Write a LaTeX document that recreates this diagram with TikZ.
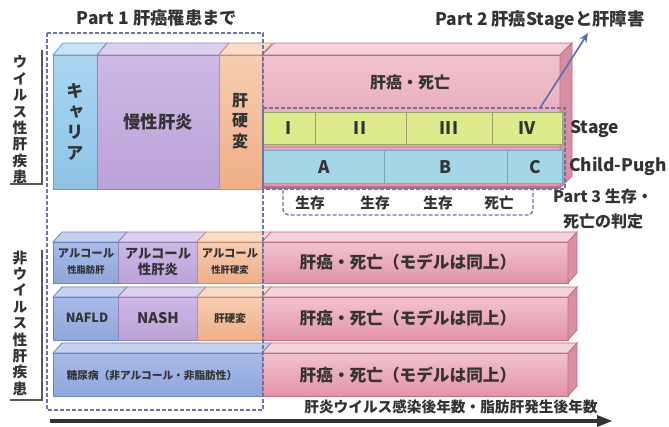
\documentclass[tikz,border=0pt]{standalone}
\usepackage{fontspec}
\setmainfont{Noto Sans CJK JP}
\newfontfamily\vjp{Noto Sans CJK JP}[RawFeature=+vert]
\usetikzlibrary{arrows.meta}
\definecolor{carA}{HTML}{A9D6F2}\definecolor{carB}{HTML}{8EC3E6}\definecolor{carL}{HTML}{C6E4F6}\definecolor{carE}{HTML}{6C9FC4}
\definecolor{chrA}{HTML}{CDB8E6}\definecolor{chrB}{HTML}{BBA2D8}\definecolor{chrL}{HTML}{DCD0EE}\definecolor{chrE}{HTML}{9480B8}
\definecolor{cirA}{HTML}{F7CDB0}\definecolor{cirB}{HTML}{EFAE88}\definecolor{cirL}{HTML}{F9DCC8}\definecolor{cirE}{HTML}{C98E6C}
\definecolor{pnkA}{HTML}{F1C3CE}\definecolor{pnkB}{HTML}{E393A8}\definecolor{pnkL}{HTML}{F4D4DC}\definecolor{pnkE}{HTML}{C06C84}\definecolor{pnkS}{HTML}{D98FA3}
\definecolor{nvbA}{HTML}{A8BCEA}\definecolor{nvbB}{HTML}{8FA6DC}\definecolor{nvbL}{HTML}{C4D2F0}\definecolor{nvbE}{HTML}{6E84BE}
\definecolor{stgF}{HTML}{DDEB8C}\definecolor{stgE}{HTML}{9EA466}
\definecolor{cpF}{HTML}{A6D5E6}\definecolor{cpE}{HTML}{74A6C0}
\definecolor{dashC}{HTML}{6D74A8}
\definecolor{txt}{HTML}{333333}
\definecolor{arrC}{HTML}{5470B4}
\newcommand\slab[7]{%
 \path[top color=#5A,bottom color=#5B,draw=#5E,line width=0.6pt] (#1,#3) rectangle (#2,#4);
 \path[fill=#5L,draw=#5E,line width=0.6pt] (#1,#3) -- (#1+#6,#3-#7) -- (#2+#6,#3-#7) -- (#2,#3) -- cycle;}
\newcommand\slabside[7]{%
 \path[fill=#5S,draw=#5E,line width=0.6pt] (#2,#3) -- (#2+#6,#3-#7) -- (#2+#6,#4-#7) -- (#2,#4) -- cycle;}
\begin{document}
\begin{tikzpicture}[x=0.75pt,y=-0.75pt,
 lbl/.style={text=txt,inner sep=0pt,align=center},
 fa/.style={lbl,font=\fontsize{12}{14}\selectfont\bfseries},
 fr/.style={lbl,font=\fontsize{12.5}{14}\selectfont\bfseries},
 ft/.style={lbl,font=\fontsize{13}{15}\selectfont\bfseries},
 fb/.style={lbl,font=\fontsize{13}{15.5}\selectfont\bfseries},
 fv/.style={lbl,font=\vjp\fontsize{11}{12.3}\selectfont\bfseries},
 fk/.style={lbl,font=\vjp\fontsize{13}{15.5}\selectfont\bfseries},
 dbox/.style={draw=dashC,line width=1pt,dash pattern=on 3pt off 1.5pt},
 stg/.style={fill=stgF,draw=stgE,line width=0.6pt},
 cp/.style={fill=cpF,draw=cpE,line width=0.6pt},
 brk/.style={draw=black!65,line width=0.8pt}]
\useasboundingbox (0,0) rectangle (669,427);
\fill[white] (0,0) rectangle (669,427);

% ---- top (viral) row
\slab{53}{97}{55}{189}{car}{10}{12}
\slab{97}{219}{55}{189}{chr}{10}{12}
\slab{219}{262}{55}{189}{cir}{10}{12}
\slab{262}{560}{55}{188}{pnk}{12}{12}
\slabside{262}{560}{55}{188}{pnk}{12}{12}
\draw[pnkE,line width=1.5pt] (262,187) -- (560,187);
\draw[pnkE!70,line width=0.8pt] (262,147) -- (560,147);

\node[fk] (carrier) at (75,122) {キ\\ャ\\リ\\ア};
\node[fb] (chronic) at (158,122) {慢性肝炎};
\node[fk,font=\vjp\fontsize{12}{15.5}\selectfont\bfseries] (cirr) at (240,121) {肝\\硬\\変};
\node[fa] (hcc) at (410,82) {肝癌・死亡};

% Stage row
\draw[stg] (263,112) rectangle (315,144);
\draw[stg] (315,112) rectangle (406,144);
\draw[stg] (406,112) rectangle (492,144);
\draw[stg] (492,112) rectangle (562,144);
\node[fb] (s1) at (289,128) {I};
\node[fb] (s2) at (360,128) {II};
\node[fb] (s3) at (449,128) {III};
\node[fb] (s4) at (527,128) {IV};
% Child-Pugh row
\draw[cp] (263,150) rectangle (384,183);
\draw[cp] (384,150) rectangle (507,183);
\draw[cp] (507,150) rectangle (562,183);
\node[fb] (ca) at (324,167) {A};
\node[fb] (cb) at (446,167) {B};
\node[fb] (cc) at (535,167) {C};
\node[fb,anchor=west] (stagelbl) at (570,129) {Stage};
\node[fb,anchor=west] (cplbl) at (569,166) {Child-Pugh};

\draw[dbox] (263,108) rectangle (565,189);

% survival
\draw[dbox,rounded corners=4pt] (283,190) -- (283,215) -- (533,215) -- (533,190);
\node[fa,font=\fontsize{11}{13}\selectfont\bfseries] (sv1) at (310,203) {生存};
\node[fa,font=\fontsize{11}{13}\selectfont\bfseries] (sv2) at (375,203) {生存};
\node[fa,font=\fontsize{11}{13}\selectfont\bfseries] (sv3) at (438,203) {生存};
\node[fa,font=\fontsize{11}{13}\selectfont\bfseries] (sv4) at (499,203) {死亡};
\node[fa,font=\fontsize{12}{19}\selectfont\bfseries] (p3) at (603,209) {Part 3 生存・\\死亡の判定};

% Part labels
\node[ft] (p1) at (157,18) {Part 1 肝癌罹患まで};
\node[ft] (p2) at (540,20) {Part 2 肝癌Stageと肝障害};
\coordinate (p2base) at (540,108);
\coordinate (p2tip) at (588,33);
\draw[arrC,line width=1.2pt,-{Stealth[length=7pt,width=6pt]}] (p2base) -- (p2tip);

% ---- non-viral rows
\slab{53}{118}{242}{283}{nvb}{9}{10}
\slab{118}{197}{242}{283}{chr}{9}{10}
\slab{197}{262}{242}{283}{cir}{9}{10}
\slab{262}{568}{242}{283}{pnk}{9}{10}
\slabside{262}{568}{242}{283}{pnk}{9}{10}

\slab{53}{118}{297}{340}{nvb}{9}{10}
\slab{118}{197}{297}{340}{chr}{9}{10}
\slab{197}{262}{297}{340}{cir}{9}{10}
\slab{262}{568}{297}{340}{pnk}{9}{10}
\slabside{262}{568}{297}{340}{pnk}{9}{10}

\slab{53}{262}{353}{396}{nvb}{9}{10}
\slab{262}{568}{353}{396}{pnk}{9}{10}
\slabside{262}{568}{353}{396}{pnk}{9}{10}

\node[lbl] (afl) at (86,262) {\fontsize{8.5}{10.5}\selectfont\bfseries アルコール\\\fontsize{7}{9}\selectfont\bfseries 性脂肪肝};
\node[lbl] (ahep) at (158,262) {\fontsize{10}{12}\selectfont\bfseries アルコール\\\fontsize{10}{12}\selectfont\bfseries 性肝炎};
\node[lbl] (acir) at (230,262) {\fontsize{8.5}{10.5}\selectfont\bfseries アルコール\\\fontsize{7}{9}\selectfont\bfseries 性肝硬変};
\node[fr] (hcc1) at (408,262) {肝癌・死亡（モデルは同上）};

\node[lbl,font=\fontsize{9.5}{11}\selectfont\bfseries] (nafld) at (87,318) {NAFLD};
\node[lbl,font=\fontsize{11}{13}\selectfont\bfseries] (nash) at (158,318) {NASH};
\node[lbl,font=\fontsize{8}{10}\selectfont\bfseries] (cir2) at (230,318) {肝硬変};
\node[fr] (hcc2) at (408,318) {肝癌・死亡（モデルは同上）};

\node[lbl,font=\fontsize{8}{10}\selectfont\bfseries] (dm) at (152,375) {糖尿病（非アルコール・非脂肪性）};
\node[fr] (hcc3) at (408,375) {肝癌・死亡（モデルは同上）};

% Part 1 dashed box
\draw[dbox] (47,33) rectangle (263,410);

% side labels and brackets
\node[fv] (viral) at (20,120) {ウ\\イ\\ル\\ス\\性\\肝\\疾\\患};
\node[fv] (nonviral) at (20,323) {非\\ウ\\イ\\ル\\ス\\性\\肝\\疾\\患};
\coordinate (b1a) at (42,50);\coordinate (b1b) at (42,184);\coordinate (b1c) at (10,184);
\draw[brk] (b1a) -- (b1b) -- (b1c);
\coordinate (b2a) at (42,250);\coordinate (b2b) at (42,400);\coordinate (b2c) at (10,400);
\draw[brk] (b2a) -- (b2b) -- (b2c);

% time axis
\node[lbl,font=\fontsize{11}{13}\selectfont\bfseries] (axis) at (451,407) {肝炎ウイルス感染後年数・脂肪肝発生後年数};
\coordinate (t0) at (50,421);
\coordinate (t1) at (613,421);
\draw[black!80,line width=3pt,-{Triangle[length=12pt,width=8pt]}] (t0) -- (t1);
\end{tikzpicture}
\end{document}
